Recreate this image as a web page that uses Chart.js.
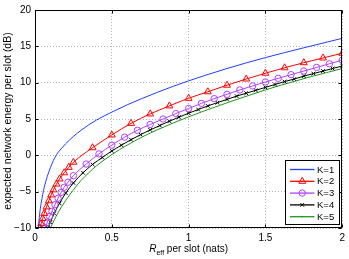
<!DOCTYPE html>
<html>
<head>
<meta charset="utf-8">
<script src="https://cdn.jsdelivr.net/npm/chart.js@4.4.1/dist/chart.umd.min.js"></script>
<style>
  html, body { margin: 0; padding: 0; background: #fff; }
  #wrap { width: 349px; height: 259px; }
</style>
</head>
<body>
<div id="wrap"><canvas id="chart" width="349" height="259"></canvas></div>
<script>
// Tick labels
const xTicks = [0, 0.5, 1, 1.5, 2];
const yTicks = [-10, -5, 0, 5, 10, 15, 20];

// R_eff (nats) and energy (dB) for each K
const rK1 = [0.022, 0.026, 0.03, 0.04, 0.05, 0.06, 0.07, 0.08, 0.09, 0.1, 0.12, 0.14, 0.17, 0.2, 0.25, 0.3, 0.35, 0.4, 0.5, 0.6, 0.7, 0.8, 0.9, 1.0, 1.1, 1.25, 1.5, 1.75, 2.0];
const eK1 = [-10.0, -9.0, -8.1, -6.6, -5.4, -4.4, -3.6, -2.9, -2.3, -1.7, -0.7, 0.1, 0.9, 1.6, 2.6, 3.45, 4.2, 4.85, 5.95, 6.95, 7.85, 8.7, 9.5, 10.25, 10.95, 11.95, 13.45, 14.8, 16.1];

const rK2 = [0.032, 0.04, 0.05, 0.06, 0.075, 0.09, 0.105, 0.12, 0.14, 0.16, 0.19, 0.22, 0.25, 0.375, 0.5, 0.625, 0.75, 0.875, 1.0, 1.125, 1.25, 1.375, 1.5, 1.625, 1.75, 1.875, 2.0];
const eK2 = [-10.0, -9.4, -8.7, -8.0, -7.1, -6.25, -5.45, -4.75, -3.95, -3.25, -2.4, -1.65, -0.95, 1.05, 2.8, 4.4, 5.7, 6.8, 7.85, 8.75, 9.65, 10.5, 11.3, 12.05, 12.75, 13.4, 14.05];

const rK3 = [0.066, 0.08, 0.095, 0.11, 0.13, 0.15, 0.17, 0.19, 0.215, 0.25, 0.3333, 0.4167, 0.5, 0.5833, 0.6667, 0.75, 0.8333, 0.9167, 1.0, 1.0833, 1.1667, 1.25, 1.3333, 1.4167, 1.5, 1.5833, 1.6667, 1.75, 1.8333, 1.9167, 2.0];
const eK3 = [-10.0, -9.2, -8.4, -7.7, -6.8, -5.9, -5.1, -4.4, -3.7, -2.8, -1.2, 0.2, 1.4, 2.5, 3.45, 4.25, 5.0, 5.75, 6.45, 7.15, 7.8, 8.4, 9.0, 9.55, 10.1, 10.6, 11.1, 11.6, 12.1, 12.6, 13.1];

const rK4 = [0.085, 0.1, 0.125, 0.16, 0.2, 0.25, 0.3125, 0.375, 0.4375, 0.5, 0.5625, 0.625, 0.6875, 0.75, 0.8125, 0.875, 0.9375, 1.0, 1.0625, 1.125, 1.1875, 1.25, 1.3125, 1.375, 1.4375, 1.5, 1.5625, 1.625, 1.6875, 1.75, 1.8125, 1.875, 1.9375, 2.0];
const eK4 = [-10.0, -9.2, -8.0, -6.6, -5.2, -3.8, -2.4, -1.25, -0.3, 0.6, 1.4, 2.15, 2.85, 3.5, 4.1, 4.7, 5.25, 5.8, 6.3, 6.8, 7.25, 7.7, 8.15, 8.55, 8.95, 9.35, 9.75, 10.15, 10.5, 10.9, 11.25, 11.6, 11.95, 12.3];

const rK5 = [0.1, 0.125, 0.15, 0.175, 0.2, 0.25, 0.3, 0.35, 0.4, 0.5, 0.6, 0.7, 0.8, 0.9, 1.0, 1.1, 1.2, 1.3, 1.4, 1.5, 1.6, 1.7, 1.8, 1.9, 2.0];
const eK5 = [-10.0, -8.9, -7.9, -7.0, -6.2, -4.75, -3.45, -2.4, -1.45, 0.1, 1.4, 2.55, 3.55, 4.45, 5.3, 6.1, 6.85, 7.6, 8.3, 9.0, 9.65, 10.25, 10.85, 11.4, 11.95];

const FONT = "'Liberation Sans', Arial, Helvetica, sans-serif";

function series(label, rs, es, color, style, radius, legendMark) {
    return {
        label: label,
        data: rs.map((r, i) => ({ x: r, y: es[i] })),
        borderColor: color,
        backgroundColor: color,
        borderWidth: 1,
        pointStyle: style,
        pointRadius: radius,
        pointBorderColor: color,
        pointBorderWidth: 1,
        pointBackgroundColor: 'rgba(0,0,0,0)',
        cubicInterpolationMode: 'monotone',
        legendMark: legendMark
    };
}

function marker(ctx, style, x, y, r, color) {
    ctx.save();
    ctx.strokeStyle = color;
    ctx.fillStyle = color;
    ctx.lineWidth = 1;
    ctx.beginPath();
    if (style === 'triangle') {
        ctx.moveTo(x, y - r);
        ctx.lineTo(x + r * 0.866, y + r * 0.5);
        ctx.lineTo(x - r * 0.866, y + r * 0.5);
        ctx.closePath();
        ctx.stroke();
    } else if (style === 'circle') {
        ctx.arc(x, y, r, 0, Math.PI * 2);
        ctx.stroke();
    } else if (style === 'crossRot') {
        const d = r * 0.707;
        ctx.moveTo(x - d, y - d); ctx.lineTo(x + d, y + d);
        ctx.moveTo(x + d, y - d); ctx.lineTo(x - d, y + d);
        ctx.stroke();
    } else if (style === 'dot') {
        ctx.arc(x, y, r, 0, Math.PI * 2);
        ctx.fill();
    }
    ctx.restore();
}

// box, inward ticks, axis titles and legend (Matlab look)
const decor = {
    id: 'decor',
    afterDatasetsDraw(chart) {
        const { ctx, chartArea: a, scales: { x, y } } = chart;
        ctx.save();
        ctx.strokeStyle = '#000';
        ctx.lineWidth = 1;
        const L = Math.round(a.left) + 0.5, R = Math.round(a.right) - 0.5;
        const T = Math.round(a.top) + 0.5, B = Math.round(a.bottom) - 0.5;
        ctx.strokeRect(L, T, R - L, B - T);
        ctx.beginPath();
        xTicks.forEach(v => {
            const px = Math.round(x.getPixelForValue(v)) + 0.5;
            ctx.moveTo(px, B); ctx.lineTo(px, B - 3);
            ctx.moveTo(px, T); ctx.lineTo(px, T + 3);
        });
        yTicks.forEach(v => {
            const py = Math.round(y.getPixelForValue(v)) + 0.5;
            ctx.moveTo(L, py); ctx.lineTo(L + 3, py);
            ctx.moveTo(R, py); ctx.lineTo(R - 3, py);
        });
        ctx.stroke();
        ctx.restore();
    },
    afterDraw(chart) {
        const { ctx, chartArea: a } = chart;
        ctx.save();
        ctx.fillStyle = '#000';

        // y title
        ctx.font = '10.5px ' + FONT;
        ctx.textAlign = 'center';
        ctx.textBaseline = 'middle';
        ctx.translate(8, 121);
        ctx.rotate(-Math.PI / 2);
        ctx.fillText('expected network energy per slot (dB)', 0, 0);
        ctx.setTransform(1, 0, 0, 1, 0, 0);

        // x title with italic R and subscript
        ctx.textAlign = 'left';
        ctx.textBaseline = 'alphabetic';
        const base = 252;
        ctx.font = 'italic 10px ' + FONT;
        const wR = ctx.measureText('R').width;
        ctx.font = '7px ' + FONT;
        const wSub = ctx.measureText('eff').width;
        ctx.font = '10px ' + FONT;
        const rest = ' per slot (nats)';
        const wRest = ctx.measureText(rest).width;
        let sx = (a.left + a.right) / 2 - (wR + wSub + wRest) / 2;
        ctx.font = 'italic 10px ' + FONT;
        ctx.fillText('R', sx, base);
        ctx.font = '7px ' + FONT;
        ctx.fillText('eff', sx + wR, base + 3);
        ctx.font = '10px ' + FONT;
        ctx.fillText(rest, sx + wR + wSub, base);

        // legend
        const w = 54, h = 64;
        const bx = Math.round(a.right - 3.5 - w) + 0.5, by = Math.round(a.bottom - 4 - h) + 0.5;
        ctx.fillStyle = '#fff';
        ctx.fillRect(bx, by, w, h);
        ctx.strokeStyle = '#000';
        ctx.lineWidth = 1;
        ctx.strokeRect(bx, by, w, h);
        ctx.font = '9.5px ' + FONT;
        ctx.textBaseline = 'middle';
        chart.data.datasets.forEach((ds, i) => {
            const cy = by + 9 + i * 11.8;
            ctx.strokeStyle = ds.borderColor;
            ctx.lineWidth = 1.3;
            ctx.beginPath();
            ctx.moveTo(bx + 4.5, cy);
            ctx.lineTo(bx + 29, cy);
            ctx.stroke();
            if (ds.legendMark) marker(ctx, ds.legendMark[0], bx + 16.75, cy, ds.legendMark[1], ds.borderColor);
            ctx.fillStyle = '#000';
            ctx.fillText(ds.label, bx + 31.5, cy + 0.5);
        });
        ctx.restore();
    }
};

const ctx = document.getElementById('chart').getContext('2d');
new Chart(ctx, {
    type: 'line',
    data: {
        datasets: [
            series('K=1', rK1, eK1, '#1f3fff', 'circle', 0, null),
            series('K=2', rK2, eK2, '#ff0000', 'triangle', 4, ['triangle', 4]),
            series('K=3', rK3, eK3, '#b040ff', 'circle', 3.2, ['circle', 3.2]),
            series('K=4', rK4, eK4, '#000000', 'crossRot', 2.6, ['crossRot', 2.6]),
            series('K=5', rK5, eK5, '#1a9a1a', 'circle', 0, ['dot', 0.8])
        ]
    },
    options: {
        responsive: false,
        animation: false,
        layout: { padding: { top: 5, right: 3, bottom: 0, left: 0 } },
        plugins: { legend: { display: false }, tooltip: { enabled: false } },
        scales: {
            x: {
                type: 'linear',
                min: 0, max: 2,
                afterBuildTicks: s => { s.ticks = xTicks.map(v => ({ value: v })); },
                afterFit: s => { s.height = 31; },
                grid: { color: '#b4b4b4', drawTicks: false },
                border: { display: false, dash: [1, 2] },
                ticks: {
                    padding: 4, color: '#000', font: { family: FONT, size: 10 }, maxRotation: 0,
                    callback: v => String(v)
                }
            },
            y: {
                min: -10, max: 20,
                afterBuildTicks: s => { s.ticks = yTicks.map(v => ({ value: v })); },
                afterFit: s => { s.width = 35; },
                grid: { color: '#b4b4b4', drawTicks: false },
                border: { display: false, dash: [1, 2] },
                ticks: {
                    padding: 4, color: '#000', font: { family: FONT, size: 10 },
                    callback: v => v < 0 ? '\u2212' + Math.abs(v) : String(v)
                }
            }
        }
    },
    plugins: [decor]
});
</script>
</body>
</html>
